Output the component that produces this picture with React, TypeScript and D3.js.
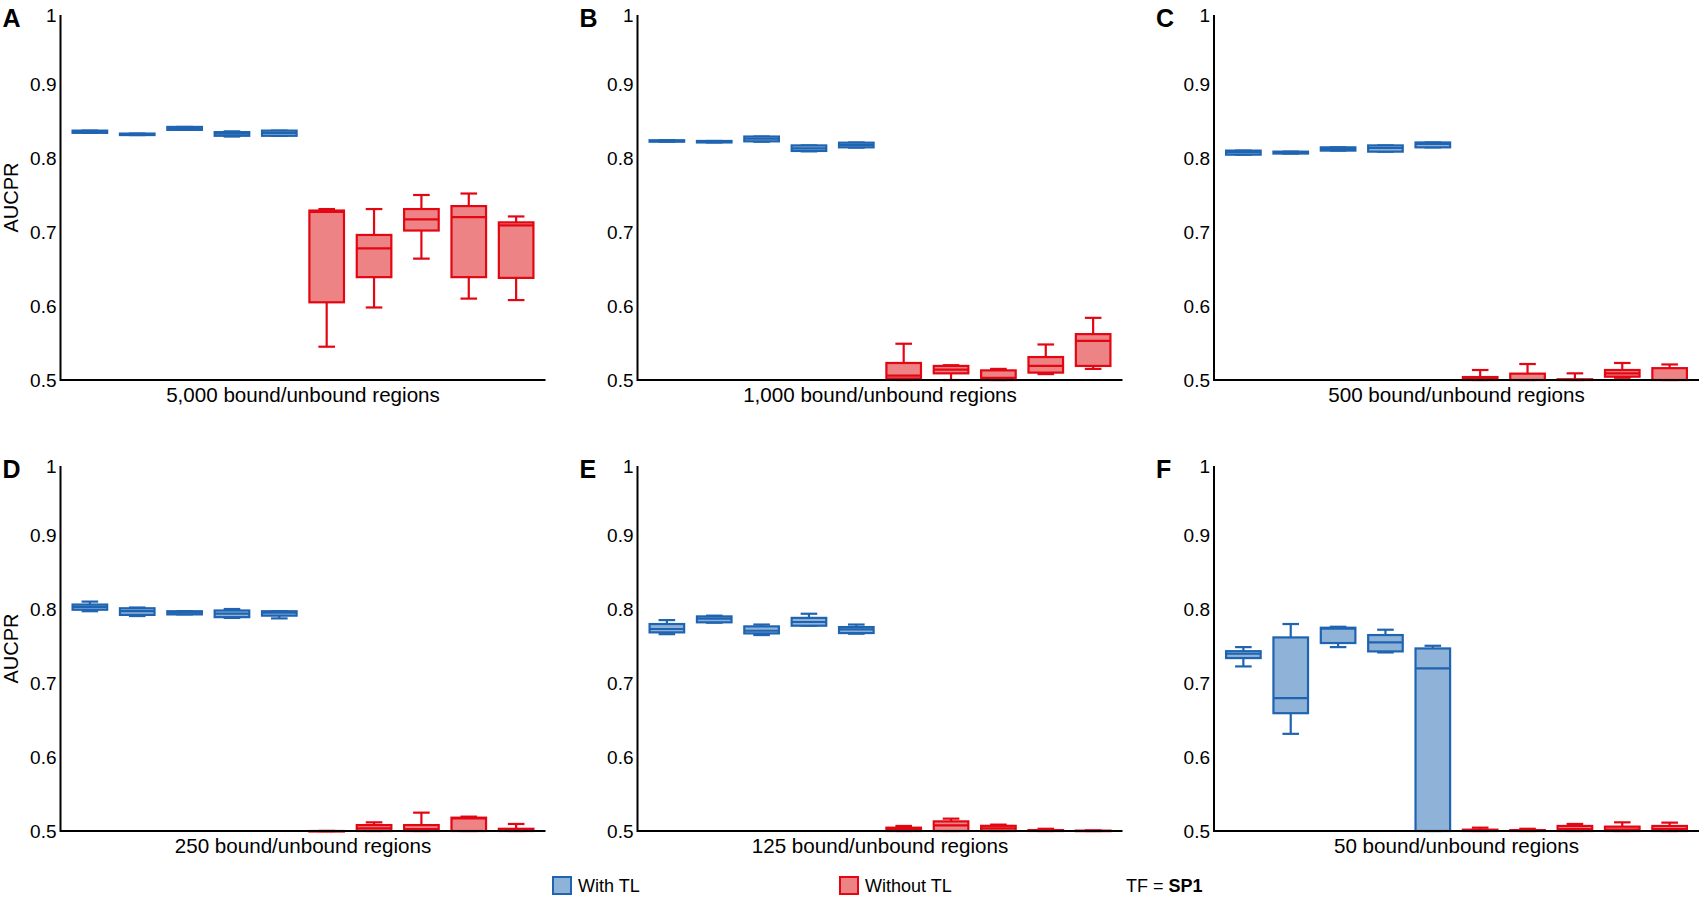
import React from "react";
import * as d3 from "d3";

// each box: [whisker low, q1, median, q3, whisker high]
type Box = [number, number, number, number, number];

const panelLetters = ["A", "B", "C", "D", "E", "F"];
const panelTitles = [
	"5,000 bound/unbound regions",
	"1,000 bound/unbound regions",
	"500 bound/unbound regions",
	"250 bound/unbound regions",
	"125 bound/unbound regions",
	"50 bound/unbound regions",
];
const groups = ["With TL", "Without TL"];
const yTicks = [0.5, 0.6, 0.7, 0.8, 0.9, 1];

const withTL_A: Box[] = [
	[0.834, 0.834, 0.835, 0.837, 0.837],
	[0.831, 0.831, 0.832, 0.833, 0.833],
	[0.838, 0.838, 0.84, 0.842, 0.842],
	[0.829, 0.83, 0.833, 0.835, 0.836],
	[0.83, 0.83, 0.834, 0.837, 0.837],
];
const withoutTL_A: Box[] = [
	[0.545, 0.605, 0.727, 0.729, 0.731],
	[0.598, 0.639, 0.678, 0.696, 0.731],
	[0.664, 0.702, 0.717, 0.731, 0.75],
	[0.61, 0.639, 0.72, 0.735, 0.752],
	[0.608, 0.638, 0.709, 0.713, 0.721],
];
const withTL_B: Box[] = [
	[0.822, 0.822, 0.823, 0.824, 0.824],
	[0.821, 0.821, 0.822, 0.823, 0.823],
	[0.822, 0.8225, 0.826, 0.829, 0.829],
	[0.809, 0.8095, 0.813, 0.817, 0.817],
	[0.814, 0.8144, 0.8176, 0.8207, 0.821],
];
const withoutTL_B: Box[] = [
	[0.5, 0.502, 0.506, 0.523, 0.549],
	[0.5, 0.509, 0.514, 0.519, 0.52],
	[0.5, 0.5, 0.503, 0.513, 0.515],
	[0.508, 0.51, 0.519, 0.531, 0.548],
	[0.515, 0.519, 0.553, 0.562, 0.584],
];
const withTL_C: Box[] = [
	[0.8045, 0.8045, 0.808, 0.81, 0.81],
	[0.806, 0.806, 0.807, 0.8086, 0.8086],
	[0.81, 0.81, 0.812, 0.8144, 0.8144],
	[0.8086, 0.8086, 0.8135, 0.817, 0.817],
	[0.8144, 0.8144, 0.819, 0.821, 0.821],
];
const withoutTL_C: Box[] = [
	[0.5, 0.5, 0.5015, 0.504, 0.5135],
	[0.5, 0.5, 0.5, 0.5086, 0.5216],
	[0.5, 0.5, 0.5, 0.501, 0.509],
	[0.503, 0.5045, 0.509, 0.5135, 0.523],
	[0.5, 0.5, 0.5, 0.516, 0.521],
];
const withTL_D: Box[] = [
	[0.797, 0.799, 0.803, 0.806, 0.81],
	[0.7905, 0.792, 0.797, 0.801, 0.802],
	[0.7927, 0.7927, 0.795, 0.797, 0.797],
	[0.788, 0.789, 0.7937, 0.798, 0.8],
	[0.7873, 0.791, 0.795, 0.797, 0.797],
];
const withoutTL_D: Box[] = [
	[0.5, 0.5, 0.5, 0.5, 0.5],
	[0.5, 0.5, 0.5036, 0.508, 0.5117],
	[0.5, 0.5, 0.5027, 0.508, 0.5248],
	[0.5, 0.5, 0.517, 0.518, 0.5194],
	[0.5, 0.5, 0.501, 0.503, 0.5095],
];
const withTL_E: Box[] = [
	[0.766, 0.7684, 0.773, 0.7797, 0.785],
	[0.7815, 0.782, 0.7869, 0.79, 0.791],
	[0.7648, 0.767, 0.7706, 0.7765, 0.779],
	[0.7774, 0.7774, 0.7824, 0.788, 0.7936],
	[0.7666, 0.7675, 0.7724, 0.7756, 0.779],
];
const withoutTL_E: Box[] = [
	[0.5, 0.5, 0.503, 0.5045, 0.5068],
	[0.5, 0.5, 0.5077, 0.513, 0.5167],
	[0.5, 0.5, 0.5036, 0.507, 0.5086],
	[0.5, 0.5, 0.5, 0.5012, 0.503],
	[0.5, 0.5, 0.5, 0.5005, 0.5008],
];
const withTL_F: Box[] = [
	[0.7224, 0.7337, 0.7395, 0.743, 0.7485],
	[0.6313, 0.6592, 0.6795, 0.7616, 0.7797],
	[0.7485, 0.754, 0.7733, 0.7747, 0.776],
	[0.7413, 0.7427, 0.7549, 0.7648, 0.772],
	[0.5, 0.5, 0.7197, 0.7467, 0.7503],
];
const withoutTL_F: Box[] = [
	[0.5, 0.5, 0.5, 0.5018, 0.5045],
	[0.5, 0.5, 0.5, 0.5012, 0.503],
	[0.5, 0.5, 0.5027, 0.5068, 0.5095],
	[0.5, 0.5, 0.502, 0.5059, 0.5117],
	[0.5, 0.5, 0.5027, 0.5068, 0.5113],
];

const withTL = [withTL_A, withTL_B, withTL_C, withTL_D, withTL_E, withTL_F];
const withoutTL = [withoutTL_A, withoutTL_B, withoutTL_C, withoutTL_D, withoutTL_E, withoutTL_F];

const colors = {
	"With TL": { stroke: "#1f64b1", fill: "#8fb2d9" },
	"Without TL": { stroke: "#e30613", fill: "#ee8386" },
};

const FONT = "'Liberation Sans', Arial, sans-serif";
const panelW = 485;
const colX = [60.5, 637.5, 1214];
// y = 0.5 sits on the x axis; the "1" label is pinned to the top of the axis line
const rowBottom = [380, 831];
const unit = 740; // px per 1.0 AUCPR
const axisLen = 365;

const Panel: React.FC<{ idx: number }> = ({ idx }) => {
	const x0 = colX[idx % 3];
	const bottom = rowBottom[Math.floor(idx / 3)];
	const top = bottom - axisLen;
	const boxes = [
		...withTL[idx].map((b) => ({ b, g: groups[0] })),
		...withoutTL[idx].map((b) => ({ b, g: groups[1] })),
	];
	const x = d3
		.scaleBand<number>()
		.domain(d3.range(boxes.length))
		.range([x0, x0 + panelW])
		.paddingInner(0)
		.paddingOuter(0.12);
	const y = d3
		.scaleLinear()
		.domain([0.5, 1])
		.range([bottom, bottom - unit * 0.5]);
	const bw = x.bandwidth() * 0.73;
	const cw = bw * 0.48;

	return (
		<g>
			<text x={x0 - 58} y={top + 12} fontSize={25} fontWeight="bold" fontFamily={FONT}>
				{panelLetters[idx]}
			</text>
			{idx % 3 === 0 && (
				<text
					transform={`translate(${x0 - 50},${(top + bottom) / 2}) rotate(-90)`}
					textAnchor="middle"
					dy="0.35em"
					fontSize={20}
					fontFamily={FONT}
				>
					AUCPR
				</text>
			)}
			{yTicks.map((t) => (
				<text
					key={t}
					x={x0 - 4}
					y={t === 1 ? top : y(t)}
					textAnchor="end"
					dy="0.35em"
					fontSize={19}
					fontFamily={FONT}
				>
					{d3.format("")(t)}
				</text>
			))}
			{boxes.map(({ b, g }, i) => {
				const cx = x(i)! + x.bandwidth() / 2;
				const c = colors[g as keyof typeof colors];
				const [lo, q1, med, q3, hi] = b;
				return (
					<g key={i} stroke={c.stroke} strokeWidth={2.2} fill="none">
						<line x1={cx} x2={cx} y1={y(hi)} y2={y(q3)} />
						<line x1={cx} x2={cx} y1={y(q1)} y2={y(lo)} />
						<line x1={cx - cw / 2} x2={cx + cw / 2} y1={y(hi)} y2={y(hi)} />
						<line x1={cx - cw / 2} x2={cx + cw / 2} y1={y(lo)} y2={y(lo)} />
						<rect
							x={cx - bw / 2}
							y={y(q3)}
							width={bw}
							height={Math.max(y(q1) - y(q3), 0.5)}
							fill={c.fill}
						/>
						<line x1={cx - bw / 2} x2={cx + bw / 2} y1={y(med)} y2={y(med)} />
					</g>
				);
			})}
			<line x1={x0} x2={x0} y1={top} y2={bottom + 1} stroke="#000" strokeWidth={2} />
			<line x1={x0} x2={x0 + panelW} y1={bottom} y2={bottom} stroke="#000" strokeWidth={2} />
			<text
				x={x0 + panelW / 2}
				y={bottom + 22}
				textAnchor="middle"
				fontSize={20.6}
				fontFamily={FONT}
			>
				{panelTitles[idx]}
			</text>
		</g>
	);
};

export default function App() {
	const legendX = [553, 840];
	return (
		<svg
			width={1700}
			height={900}
			style={{ position: "absolute", left: 0, top: 0, background: "#fff" }}
		>
			{panelLetters.map((_, i) => (
				<Panel key={i} idx={i} />
			))}
			{groups.map((g, i) => {
				const c = colors[g as keyof typeof colors];
				return (
					<g key={g}>
						<rect
							x={legendX[i]}
							y={877}
							width={18}
							height={17}
							fill={c.fill}
							stroke={c.stroke}
							strokeWidth={2}
						/>
						<text x={legendX[i] + 25} y={892} fontSize={18} fontFamily={FONT}>
							{g}
						</text>
					</g>
				);
			})}
			<text x={1126} y={892} fontSize={18} fontFamily={FONT}>
				TF = <tspan fontWeight="bold">SP1</tspan>
			</text>
		</svg>
	);
}
